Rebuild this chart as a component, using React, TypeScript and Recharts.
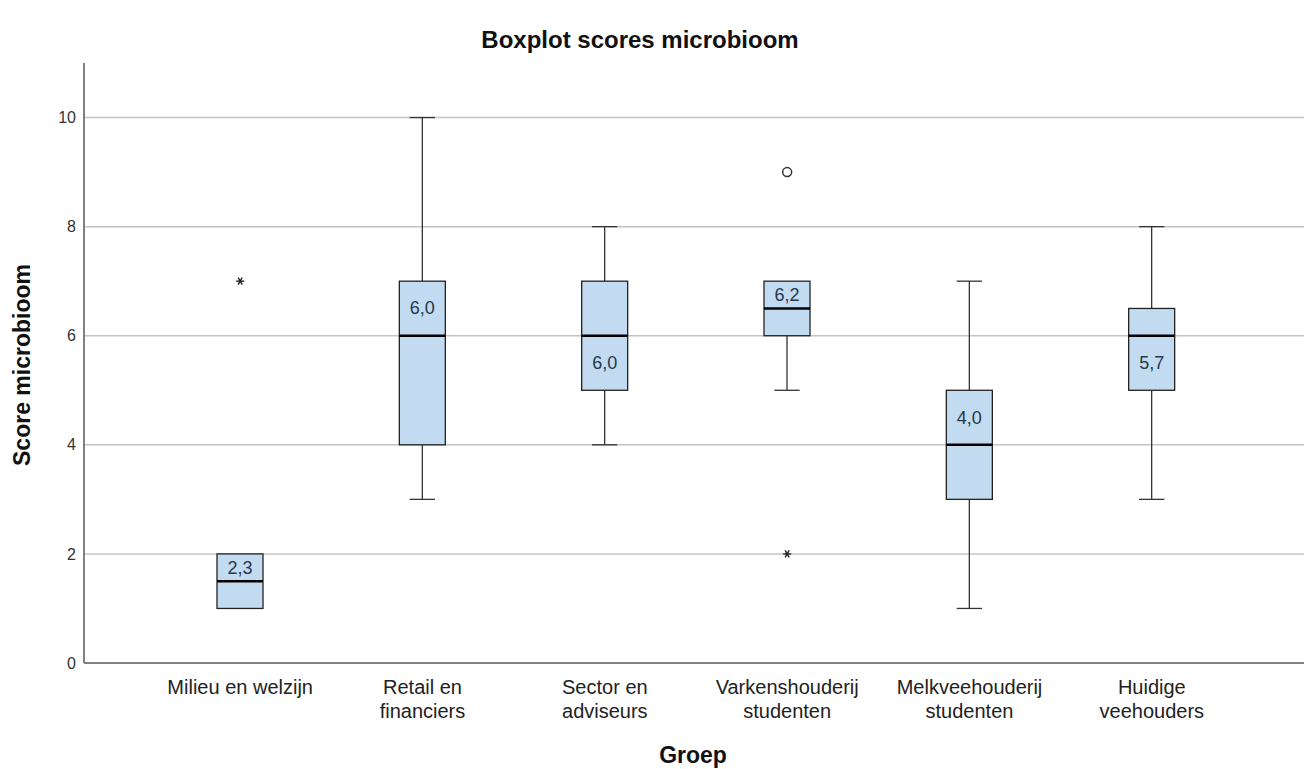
import {
  ComposedChart,
  Bar,
  Scatter,
  XAxis,
  YAxis,
  CartesianGrid,
} from "recharts";

/* ── data ─────────────────────────────────────────────────── */
const groups = [
  "Milieu en welzijn",
  "Retail en\nfinanciers",
  "Sector en\nadviseurs",
  "Varkenshouderij\nstudenten",
  "Melkveehouderij\nstudenten",
  "Huidige\nveehouders",
];
const mins = [1, 3, 4, 5, 1, 3];
const q1s = [1, 4, 5, 6, 3, 5];
const medians = [1.5, 6, 6, 6.5, 4, 6];
const q3s = [2, 7, 7, 7, 5, 6.5];
const maxs = [2, 10, 8, 7, 7, 8];
const means = [2.3, 6.0, 6.0, 6.2, 4.0, 5.7];
const meanSide = ["upper", "upper", "lower", "upper", "upper", "lower"];
const yTicks = [0, 2, 4, 6, 8, 10];

const starOutliers = [
  { group: groups[0], value: 7 },
  { group: groups[3], value: 2 },
];
const circleOutliers = [{ group: groups[3], value: 9 }];

const boxData = groups.map((g, i) => ({
  group: g,
  min: mins[i],
  q1: q1s[i],
  median: medians[i],
  q3: q3s[i],
  max: maxs[i],
  mean: means[i],
  side: meanSide[i],
}));

const FONT = "'Liberation Sans', Arial, sans-serif";

/* ── shapes ───────────────────────────────────────────────── */
function BoxShape(props: any) {
  const { x, y, width, height, payload } = props;
  const top = Math.min(y, y + height);
  const bottom = Math.max(y, y + height);
  const { min, max, q1, median, q3, mean, side } = payload;
  const py = (v: number) =>
    bottom - ((v - min) / (max - min)) * (bottom - top);
  const cx = x + width / 2;
  const cap = width * 0.55;
  const labelV = side === "upper" ? (median + q3) / 2 : (median + q1) / 2;
  return (
    <g>
      {max > q3 && (
        <>
          <line x1={cx} x2={cx} y1={py(max)} y2={py(q3)} stroke="#333" strokeWidth={1.3} />
          <line x1={cx - cap / 2} x2={cx + cap / 2} y1={py(max)} y2={py(max)} stroke="#333" strokeWidth={1.3} />
        </>
      )}
      {min < q1 && (
        <>
          <line x1={cx} x2={cx} y1={py(q1)} y2={py(min)} stroke="#333" strokeWidth={1.3} />
          <line x1={cx - cap / 2} x2={cx + cap / 2} y1={py(min)} y2={py(min)} stroke="#333" strokeWidth={1.3} />
        </>
      )}
      <rect
        x={x}
        y={py(q3)}
        width={width}
        height={py(q1) - py(q3)}
        fill="#c2dbf1"
        stroke="#222"
        strokeWidth={1.3}
      />
      <line x1={x} x2={x + width} y1={py(median)} y2={py(median)} stroke="#000" strokeWidth={2.5} />
      <text
        x={cx}
        y={py(labelV)}
        dy={6}
        textAnchor="middle"
        fontSize={18}
        fill="#26384a"
        fontFamily={FONT}
      >
        {mean.toFixed(1).replace(".", ",")}
      </text>
    </g>
  );
}

function Star(props: any) {
  const { cx, cy } = props;
  const r = 4;
  return (
    <g stroke="#222" strokeWidth={1.4}>
      <line x1={cx - r} x2={cx + r} y1={cy} y2={cy} />
      <line x1={cx - r * 0.5} x2={cx + r * 0.5} y1={cy - r * 0.87} y2={cy + r * 0.87} />
      <line x1={cx - r * 0.5} x2={cx + r * 0.5} y1={cy + r * 0.87} y2={cy - r * 0.87} />
    </g>
  );
}

function Ring(props: any) {
  const { cx, cy } = props;
  return <circle cx={cx} cy={cy} r={4.5} fill="#fff" stroke="#333" strokeWidth={1.5} />;
}

function XTick(props: any) {
  const { x, y, payload } = props;
  const lines = String(payload.value).split("\n");
  return (
    <text x={x} y={y} textAnchor="middle" fontSize={20} fill="#222" fontFamily={FONT}>
      {lines.map((l, i) => (
        <tspan key={i} x={x} dy={i === 0 ? 31 : 24}>
          {l}
        </tspan>
      ))}
    </text>
  );
}

/* ── chart ────────────────────────────────────────────────── */
export default function App() {
  return (
    <div
      style={{
        position: "absolute",
        left: 0,
        top: 0,
        width: 1306,
        height: 769,
        background: "#fff",
        fontFamily: FONT,
      }}
    >
      <div
        style={{
          position: "absolute",
          left: 0,
          width: 1280,
          top: 26,
          textAlign: "center",
          fontSize: 24,
          fontWeight: "bold",
          color: "#111",
        }}
      >
        Boxplot scores microbioom
      </div>
      <ComposedChart
        width={1306}
        height={769}
        data={boxData}
        margin={{ top: 63, right: 2, bottom: 46, left: 0 }}
      >
        <CartesianGrid
          horizontal
          vertical={false}
          horizontalValues={yTicks}
          stroke="#c4c4c4"
          strokeWidth={1.5}
        />
        <XAxis
          dataKey="group"
          type="category"
          allowDuplicatedCategory={false}
          height={60}
          padding={{ left: 65, right: 61 }}
          tickLine={false}
          tickSize={0}
          tickMargin={0}
          stroke="#808080"
          strokeWidth={2}
          tick={<XTick />}
          interval={0}
        />
        <YAxis
          type="number"
          domain={[0, 11]}
          ticks={yTicks}
          width={84}
          tickLine={false}
          tickSize={0}
          tickMargin={8}
          stroke="#808080"
          strokeWidth={2}
          tick={{ fontSize: 16, fill: "#333", fontFamily: FONT }}
        />
        <Bar
          dataKey={(d: any) => [d.min, d.max]}
          barSize={46}
          shape={<BoxShape />}
          isAnimationActive={false}
        />
        <Scatter
          data={starOutliers}
          dataKey="value"
          shape={<Star />}
          isAnimationActive={false}
        />
        <Scatter
          data={circleOutliers}
          dataKey="value"
          shape={<Ring />}
          isAnimationActive={false}
        />
      </ComposedChart>
      <div
        style={{
          position: "absolute",
          left: 22,
          top: 365,
          transform: "translate(-50%, -50%) rotate(-90deg)",
          whiteSpace: "nowrap",
          fontSize: 23,
          fontWeight: "bold",
          color: "#111",
        }}
      >
        Score microbioom
      </div>
      <div
        style={{
          position: "absolute",
          left: 0,
          width: 1386,
          top: 742,
          textAlign: "center",
          fontSize: 23,
          fontWeight: "bold",
          color: "#111",
        }}
      >
        Groep
      </div>
    </div>
  );
}
